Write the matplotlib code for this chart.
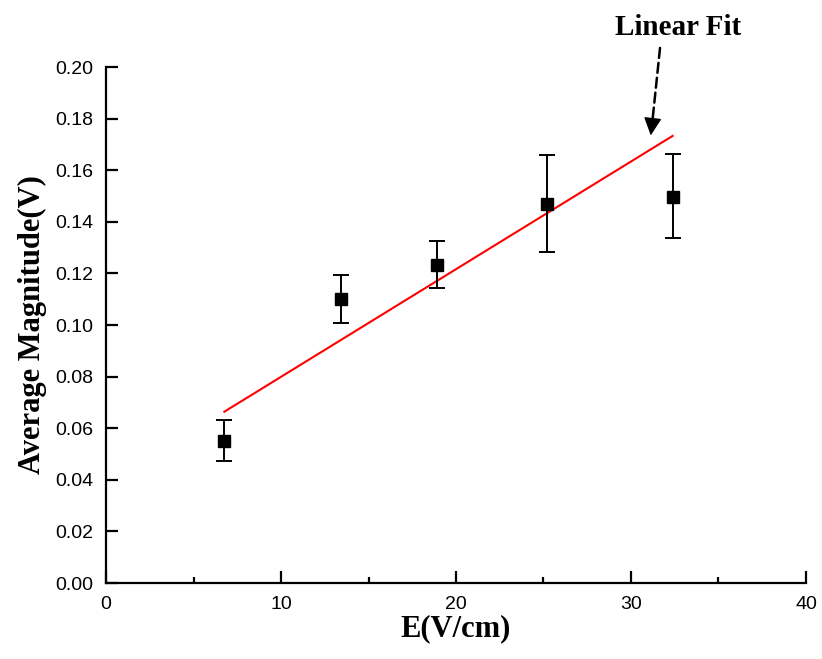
import matplotlib
matplotlib.use("Agg")
import matplotlib.pyplot as plt

# measured points
field = [6.76, 13.45, 18.9, 25.2, 32.38]
magnitude = [0.0552, 0.1100, 0.1234, 0.1469, 0.1497]
err_low = [0.0474, 0.1007, 0.1143, 0.1282, 0.1337]
err_high = [0.0633, 0.1194, 0.1327, 0.1658, 0.1662]

# fitted line end points
fit_x = [6.76, 32.38]
fit_y = [0.0664, 0.1733]

x_ticks = [0, 10, 20, 30, 40]
y_ticks = [0.00, 0.02, 0.04, 0.06, 0.08, 0.10, 0.12, 0.14, 0.16, 0.18, 0.20]

yerr = [[m - lo for m, lo in zip(magnitude, err_low)],
        [hi - m for m, hi in zip(magnitude, err_high)]]

fig = plt.figure(figsize=(8.22, 6.59), dpi=100)
ax = fig.add_axes([0.129, 0.1153, 0.8515, 0.783])

ax.plot(fit_x, fit_y, color="red", lw=1.5, zorder=2)
ax.errorbar(field, magnitude, yerr=yerr, fmt="s", color="black", ms=8.5,
            elinewidth=1.4, capsize=5.5, capthick=1.4, zorder=3)

ax.set_xlim(0, 40)
ax.set_ylim(0, 0.20)
ax.set_xticks(x_ticks)
ax.set_xticks([5, 15, 25, 35], minor=True)
ax.set_yticks(y_ticks)
ax.set_yticklabels([f"{v:.2f}" for v in y_ticks])

for s in ["top", "right"]:
    ax.spines[s].set_visible(False)
for s in ["left", "bottom"]:
    ax.spines[s].set_linewidth(1.6)

ax.tick_params(which="major", direction="in", length=8.5, width=1.6,
               labelsize=14, pad=9)
ax.tick_params(which="minor", direction="in", length=4, width=1.6)
for lab in ax.get_xticklabels() + ax.get_yticklabels():
    lab.set_fontfamily("Liberation Sans")

label_font = dict(family="Liberation Serif", weight="bold", size=22)
ax.set_xlabel("E(V/cm)", labelpad=1, **label_font)
ax.set_ylabel("Average Magnitude(V)", labelpad=6, **label_font)

# dashed shaft, then a solid head
ax.annotate("", xy=(31.22, 0.1788), xytext=(31.66, 0.2074),
            arrowprops=dict(arrowstyle="-", ls=(0, (4, 2)), lw=1.8,
                            color="black", shrinkA=0, shrinkB=0),
            annotation_clip=False)
ax.annotate("", xy=(31.13, 0.1735), xytext=(31.22, 0.1788),
            arrowprops=dict(arrowstyle="-|>,head_length=1.1,head_width=0.55",
                            mutation_scale=10, lw=1, color="black",
                            shrinkA=0, shrinkB=0),
            annotation_clip=False)
ax.text(32.67, 0.2155, "Linear Fit", ha="center", va="center",
        family="Liberation Serif", weight="bold", size=21, clip_on=False)

fig.savefig("out.png", dpi=100)
